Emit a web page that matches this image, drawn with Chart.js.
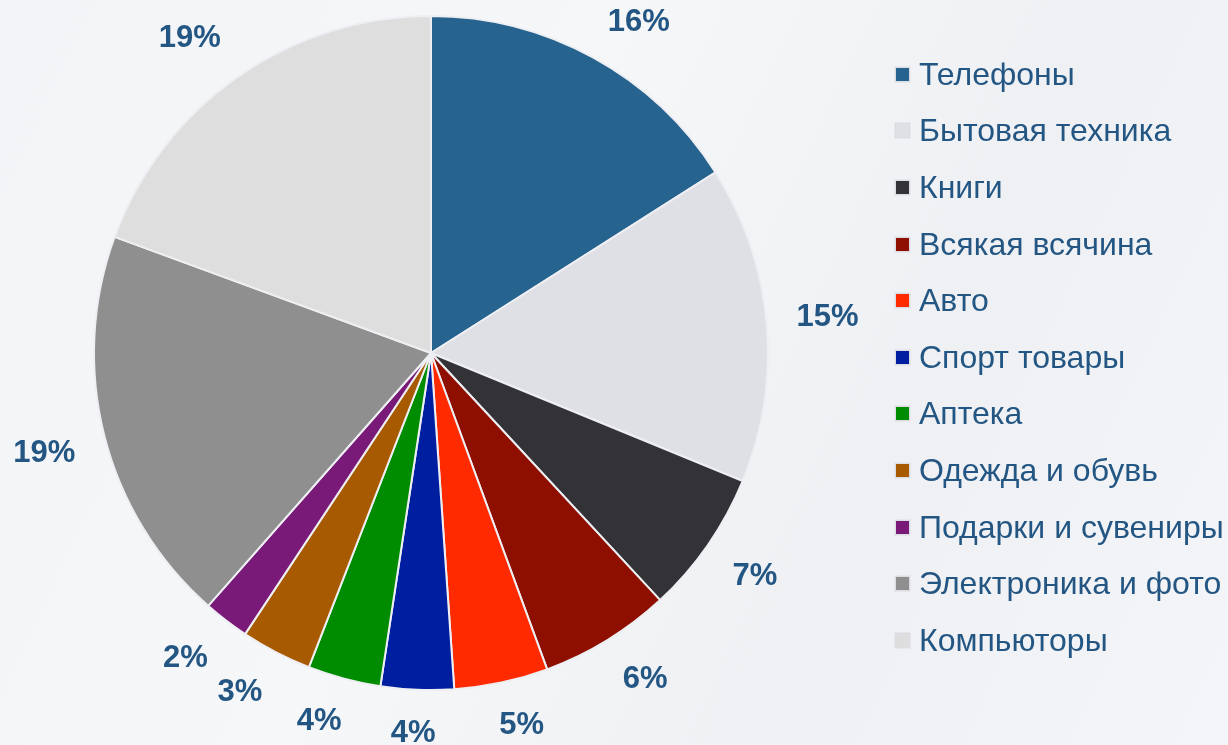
<!DOCTYPE html>
<html><head><meta charset="utf-8">
<script src="https://cdn.jsdelivr.net/npm/chart.js@4.4.1/dist/chart.umd.min.js"></script>
<style>
html,body{margin:0;padding:0;width:1228px;height:745px;overflow:hidden;}
body{background:linear-gradient(115deg,#f3f4f7 0%,#f6f7f9 40%,#eff0f3 70%,#f4f5f8 100%);font-family:"Liberation Sans",Arial,sans-serif;position:relative;}
#wrap{position:absolute;left:0;top:0;width:1228px;height:745px;}
#legend{position:absolute;left:896px;top:46px;}
.item{height:56.6px;display:flex;align-items:center;color:#235683;font-size:32px;white-space:nowrap;}
.sw{width:13px;height:13px;margin-right:10px;box-shadow:0 0 0 1.5px #dcdde3;}
</style></head>
<body>
<div id="wrap"><canvas id="c" width="1228" height="745"></canvas></div>
<div id="legend"></div>
<script>
const categories = ["Телефоны","Бытовая техника","Книги","Всякая всячина","Авто","Спорт товары","Аптека","Одежда и обувь","Подарки и сувениры","Электроника и фото","Компьюторы"];
const shares = [16,15.2,6.9,6.3,4.5,3.5,3.5,3.4,2.2,19.1,19.4];
const labels = ["16%","15%","7%","6%","5%","4%","4%","3%","2%","19%","19%"];
const colors = ["#27638f","#dfe0e6","#323237","#8e0f00","#ff2a00","#001fa0","#008c00","#a85a00","#7a1a78","#8f8f8f","#dedede"];

const leg = document.getElementById('legend');
categories.forEach((c,i)=>{
  const d=document.createElement('div');d.className='item';
  d.innerHTML='<span class="sw" style="background:'+colors[i]+'"></span><span>'+c+'</span>';
  leg.appendChild(d);
});

const labelPlugin = {
  id:'outLabels',
  afterDatasetsDraw(chart){
    const ctx=chart.ctx;const meta=chart.getDatasetMeta(0);
    ctx.save();
    const fs=31;
    ctx.font='bold '+fs+'px "Liberation Sans", Arial, sans-serif';
    ctx.fillStyle='#235683';ctx.textAlign='center';ctx.textBaseline='middle';
    meta.data.forEach((arc,i)=>{
      const p=arc.getProps(['x','y','startAngle','endAngle','outerRadius'],true);
      const a=(p.startAngle+p.endAngle)/2;
      const ux=Math.cos(a), uy=Math.sin(a);
      const R=p.outerRadius+30;
      const w=ctx.measureText(labels[i]).width, h=fs*0.9;
      const ox=Math.sign(ux)*Math.min(1,3*Math.abs(ux))*w/2;
      const oy=Math.sign(uy)*Math.min(1,3*Math.abs(uy))*h/2;
      let y=p.y+R*uy+oy;
      if(y<22) y=22;
      ctx.fillText(labels[i],p.x+R*ux+ox,y);
    });
    ctx.restore();
  }
};

new Chart(document.getElementById('c'),{
  type:'pie',
  data:{labels:categories,datasets:[{data:shares,backgroundColor:colors,borderColor:'#eeeff3',borderWidth:2}]},
  options:{
    responsive:false,animation:false,
    layout:{padding:{left:93,top:15,right:459,bottom:54}},
    plugins:{legend:{display:false},tooltip:{enabled:false}}
  },
  plugins:[labelPlugin]
});
</script>
</body></html>
